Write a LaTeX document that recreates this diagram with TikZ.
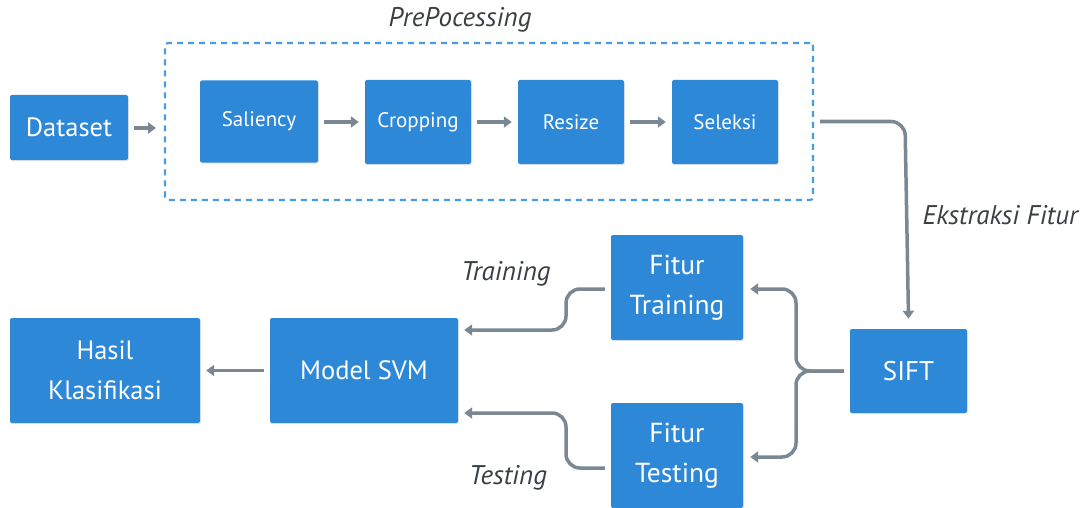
\documentclass[tikz,border=0pt]{standalone}
\usepackage{fontspec}
\setmainfont{PT Sans}
\usetikzlibrary{arrows.meta,shadows}
\definecolor{boxblue}{HTML}{2E88D8}
\definecolor{dashblue}{HTML}{4A9BE0}
\definecolor{arrgray}{HTML}{7B8894}
\definecolor{labgray}{HTML}{3A3F44}
\tikzset{
  box/.style={fill=boxblue, draw=none, rounded corners=2pt, text=white, align=center,
    inner sep=0pt, drop shadow={opacity=0.18, shadow xshift=0.8pt, shadow yshift=-1.2pt}},
  conn/.style={draw=arrgray, line width=3.5pt, -{Triangle[length=8pt,width=11pt]}, rounded corners=14pt},
  lab/.style={text=labgray, font=\itshape\fontsize{27}{30}\selectfont},
}
\begin{document}
\begin{tikzpicture}[x=1pt,y=-1pt]
\useasboundingbox (0,0) rectangle (1091,508);
% preprocessing group
\node[draw=dashblue, dashed, dash pattern=on 6pt off 5pt, line width=2.2pt, rounded corners=3pt,
  minimum width=648pt, minimum height=157pt, inner sep=0pt] (pre) at (489,121.5) {};
\node[lab] (prelab) at (460,20) {PrePocessing};
% top row
\node[box, minimum width=118pt, minimum height=65pt, font=\fontsize{26.5}{30}\selectfont] (data) at (69,127.5) {Dataset};
\node[box, minimum width=118pt, minimum height=82pt, font=\fontsize{21}{24}\selectfont] (sal) at (259,121.5) {Saliency};
\node[box, minimum width=106pt, minimum height=84pt, font=\fontsize{21}{24}\selectfont] (crop) at (418,122) {Cropping};
\node[box, minimum width=106pt, minimum height=84pt, font=\fontsize{21}{24}\selectfont] (res) at (571,122) {Resize};
\node[box, minimum width=106pt, minimum height=84pt, font=\fontsize{21}{24}\selectfont] (sel) at (725,122) {Seleksi};
% lower part
\node[box, minimum width=117pt, minimum height=84pt, font=\fontsize{27}{30}\selectfont] (sift) at (908.5,371) {SIFT};
\node[box, minimum width=132pt, minimum height=105pt, font=\fontsize{27.5}{40}\selectfont] (ftr) at (677,287.5) {Fitur\\Training};
\node[box, minimum width=132pt, minimum height=105pt, font=\fontsize{27.5}{40}\selectfont] (fte) at (677,455.5) {Fitur\\Testing};
\node[box, minimum width=188pt, minimum height=105pt, font=\fontsize{26.5}{30}\selectfont] (svm) at (364,370.5) {Model SVM};
\node[box, minimum width=190pt, minimum height=105pt, font=\fontsize{26.5}{40}\selectfont] (hasil) at (105,370.5) {Hasil\\Klasifikasi};
% labels
\node[lab, anchor=west] (ekl) at (919,215) {Ekstraksi Fitur};
\node[lab] (trl) at (506,274) {Training};
\node[lab] (tel) at (508,478) {Testing};
% connectors
\coordinate (dsA) at (134,128);
\coordinate (dsB) at (156,128);
\draw[conn] (dsA) -- (dsB);
\draw[conn] ([xshift=6pt]sal.east |- crop.west) -- ([xshift=-6pt]crop.west);
\draw[conn] ([xshift=6pt]crop.east) -- ([xshift=-6pt]res.west);
\draw[conn] ([xshift=6pt]res.east) -- ([xshift=-6pt]sel.west);
\coordinate (bendA) at (905,121.5);
\draw[conn] ([xshift=6pt]pre.east) -- (bendA) -- ([yshift=10pt]sift.north);
\coordinate (jn) at (796,371);
\draw[conn] ([xshift=-6pt]sift.west) -- (jn) -- (jn |- 0,289) -- ([xshift=7pt]ftr.east |- 0,289);
\draw[conn] ([xshift=-6pt]sift.west) -- (jn) -- (jn |- 0,457) -- ([xshift=7pt]fte.east |- 0,457);
\coordinate (trb) at (566,289);
\draw[conn] ([xshift=-6pt]ftr.west |- trb) -- (trb) -- (566,330) -- ([xshift=6pt]svm.east |- 0,330);
\coordinate (teb) at (566,468);
\draw[conn] ([xshift=-6pt]fte.west |- teb) -- (teb) -- (566,413) -- ([xshift=6pt]svm.east |- 0,413);
\draw[conn] ([xshift=-6pt]svm.west) -- ([xshift=6pt]hasil.east);
\end{tikzpicture}
\end{document}
